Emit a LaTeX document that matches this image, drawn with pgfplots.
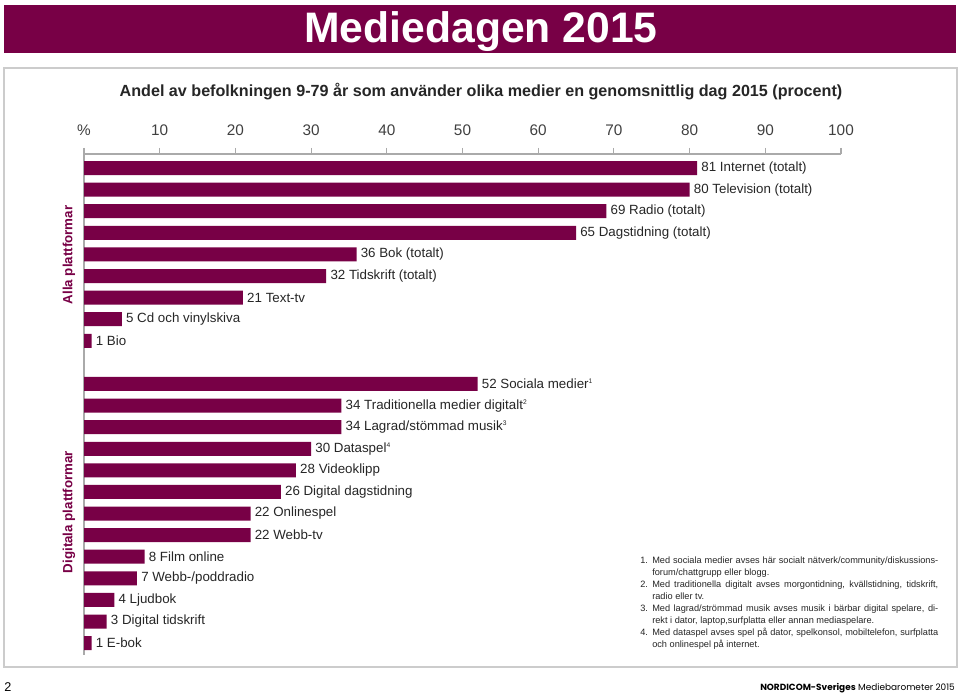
\documentclass[border=0pt]{standalone}
\usepackage{pgfplots}
\pgfplotsset{compat=1.18}
\usepackage{fontspec}
\setmainfont{Liberation Sans}
\newfontfamily\footfont{Poppins}
\definecolor{maroon}{RGB}{120,0,70}
\definecolor{axgray}{RGB}{170,170,170}
\begin{document}
\begin{tikzpicture}[x=0.75pt,y=0.75pt]
\useasboundingbox (0,0) rectangle (959,695);
\fill[white] (0,0) rectangle (959,695);
% title bar
\fill[maroon] (4,642) rectangle (956,690);
\node[anchor=base,text=white,font=\fontsize{32}{32}\selectfont\bfseries,inner sep=0pt] at (481,652.5) {Mediedagen 2015};
% frame
\draw[gray!40,line width=1.2pt] (4,28) rectangle (957,627);
% subtitle
\node[anchor=base,font=\fontsize{12.1}{14}\selectfont\bfseries,text=black!85,inner sep=0pt] at (481,598) {Andel av befolkningen 9-79 år som använder olika medier en genomsnittlig dag 2015 (procent)};
\begin{axis}[
  at={(63pt,405.75pt)}, anchor=north west,
  scale only axis, width=567.75pt, height=375.75pt,
  xmin=0, xmax=100, ymin=-22.55, ymax=0.65,
  axis x line*=top, axis y line*=left,
  axis line style={axgray, line width=0.8pt},
  xtick={0,10,20,30,40,50,60,70,80,90,100},
  xticklabels={\%,10,20,30,40,50,60,70,80,90,100},
  xtick align=outside, major tick length=4.5pt,
  tick style={axgray, line width=0.8pt},
  ytick=\empty,
  /pgf/number format/assume math mode=true,
  xticklabel style={font=\fontsize{11.5}{13}\selectfont, text=black!75, yshift=6pt},
  xbar, bar width=10.5pt,
  point meta=explicit symbolic,
  nodes near coords,
  nodes near coords align=horizontal,
  every node near coord/.append style={anchor=west, font=\fontsize{10}{12}\selectfont, text=black!85, inner sep=0pt, xshift=3pt},
  clip=false,
]
\addplot[fill=maroon, draw=none] coordinates {
(81,0) [81 Internet (totalt)]
(80,-1) [80 Television (totalt)]
(69,-2) [69 Radio (totalt)]
(65,-3) [65 Dagstidning (totalt)]
(36,-4) [36 Bok (totalt)]
(32,-5) [32 Tidskrift (totalt)]
(21,-6) [21 Text-tv]
(5,-7) [5 Cd och vinylskiva]
(1,-8) [1 Bio]
(52,-10) [52 Sociala medier\textsuperscript{\tiny 1}]
(34,-11) [34 Traditionella medier digitalt\textsuperscript{\tiny 2}]
(34,-12) [34 Lagrad/stömmad musik\textsuperscript{\tiny 3}]
(30,-13) [30 Dataspel\textsuperscript{\tiny 4}]
(28,-14) [28 Videoklipp]
(26,-15) [26 Digital dagstidning]
(22,-16) [22 Onlinespel]
(22,-17) [22 Webb-tv]
(8,-18) [8 Film online]
(7,-19) [7 Webb-/poddradio]
(4,-20) [4 Ljudbok]
(3,-21) [3 Digital tidskrift]
(1,-22) [1 E-bok]
};
\end{axis}
% group labels
\node[rotate=90,font=\fontsize{10}{12}\selectfont\bfseries,text=maroon] at (69,440) {Alla plattformar};
\node[rotate=90,font=\fontsize{10}{12}\selectfont\bfseries,text=maroon] at (69,183) {Digitala plattformar};
% footnotes
\node[anchor=north west,inner sep=0pt,text width=223.5pt,text=black!85,font=\fontsize{6.9}{9}\selectfont,align=justify] at (640,138) {%
\hangindent=9pt\hangafter=1\noindent\makebox[9pt][l]{1.}Med sociala medier avses här socialt nätverk/community/diskussions-\linebreak forum/chattgrupp eller blogg.\par
\hangindent=9pt\hangafter=1\noindent\makebox[9pt][l]{2.}Med traditionella digitalt avses morgontidning, kvällstidning, tidskrift,\linebreak radio eller tv.\par
\hangindent=9pt\hangafter=1\noindent\makebox[9pt][l]{3.}Med lagrad/strömmad musik avses musik i bärbar digital spelare, di-\linebreak rekt i dator, laptop,surfplatta eller annan mediaspelare.\par
\hangindent=9pt\hangafter=1\noindent\makebox[9pt][l]{4.}Med dataspel avses spel på dator, spelkonsol, mobiltelefon, surfplatta\linebreak och onlinespel på internet.\par};
% footer
\node[anchor=base west,inner sep=0pt,font=\fontsize{9.5}{10}\selectfont] at (4,3) {2};
\node[anchor=base east,inner sep=0pt,font=\footfont\fontsize{6.7}{8}\selectfont] at (955,4) {\textbf{NORDICOM-Sveriges} Mediebarometer 2015};
\end{tikzpicture}
\end{document}
